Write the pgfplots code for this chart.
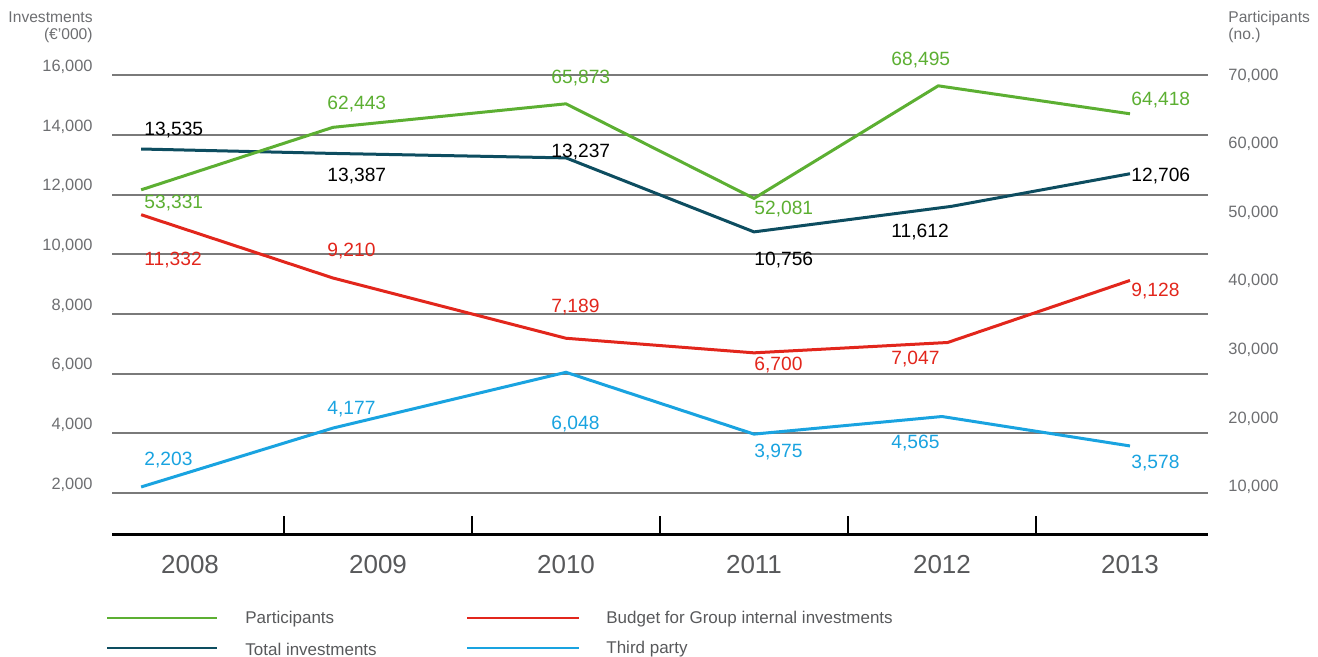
\documentclass[border=0pt]{standalone}
\usepackage{fontspec}
\setmainfont{Liberation Sans}
\usepackage{pgfplots}
\pgfplotsset{compat=1.18}
\definecolor{cGreen}{HTML}{5CAF32}
\definecolor{cTeal}{HTML}{0D4D60}
\definecolor{cRed}{HTML}{E2261C}
\definecolor{cCyan}{HTML}{19A3E0}
\definecolor{cGrid}{HTML}{7A7A7A}
\definecolor{cTick}{HTML}{6D6E71}
\definecolor{cYear}{HTML}{58595B}
\newcommand\fTick{\fontsize{8.2}{9}\selectfont}
\newcommand\fYear{\fontsize{13}{15}\selectfont}
\newcommand\fData{\fontsize{9.6}{11}\selectfont}
\newcommand\fLeg{\fontsize{8.5}{10}\selectfont}
\newcommand\fHead{\fontsize{7.8}{8.5}\selectfont}
\begin{document}
\begin{tikzpicture}[x=0.5pt,y=-0.5pt]
% left axis: investments (EUR '000)
\begin{axis}[
  at={(56pt,-267.5pt)}, anchor=south west,
  scale only axis, width=548pt, height=229.75pt,
  xmin=-0.415, xmax=5.415, ymin=592, ymax=16000,
  clip=false,
  axis x line*=bottom, x axis line style={-, black, line width=1.5pt},
  axis y line*=left, y axis line style={draw=none},
  xtick={0,1,2,3,4,5}, xticklabels={2008,2009,2010,2011,2012,2013},
  major x tick style={draw=none},
  minor xtick={0.5,1.5,2.5,3.5,4.5},
  minor x tick style={black, line width=1pt},
  minor tick length=9.5pt, tick align=inside,
  xticklabel style={font=\fYear, text=cYear, anchor=center, inner sep=0pt, yshift=-14.75pt},
  ytick={2000,4000,6000,8000,10000,12000,14000,16000},
  major y tick style={draw=none},
  scaled y ticks=false,
  /pgf/number format/1000 sep={,},
  /pgf/number format/assume math mode=true,
  yticklabel style={font=\fTick, text=cTick, anchor=base east, inner sep=0pt, xshift=-9.5pt, yshift=2pt},
  ymajorgrids, grid style={cGrid, line width=1pt},
]
% Total investments
\addplot[cTeal, line width=1.5pt] coordinates {(-0.26,13535) (0.76,13387) (2,13237) (3,10756) (4.05,11612) (5,12706)};
% Budget for Group internal investments
\addplot[cRed, line width=1.5pt] coordinates {(-0.26,11332) (0.76,9210) (2,7189) (3,6700) (4.03,7047) (5,9128)};
% Third party
\addplot[cCyan, line width=1.5pt] coordinates {(-0.26,2203) (0.76,4177) (2,6048) (3,3975) (4,4565) (5,3578)};
\end{axis}
% right axis: participants
\begin{axis}[
  at={(56pt,-267.5pt)}, anchor=south west,
  scale only axis, width=548pt, height=229.75pt,
  xmin=-0.415, xmax=5.415, ymin=3010, ymax=70000,
  clip=false,
  axis x line=none,
  axis y line*=right, y axis line style={draw=none},
  ytick={10000,20000,30000,40000,50000,60000,70000},
  major y tick style={draw=none},
  scaled y ticks=false,
  /pgf/number format/1000 sep={,},
  /pgf/number format/assume math mode=true,
  yticklabel style={font=\fTick, text=cTick, anchor=west, inner sep=0pt, xshift=10pt},
]
\addplot[cGreen, line width=1.5pt] coordinates {(-0.26,53331) (0.76,62443) (2,65873) (3,52081) (3.98,68495) (5,64418)};
\end{axis}
% axis headings
\node[font=\fHead, text=cTick, anchor=north east, align=right, inner sep=0pt] at (93,11) {Investments\\(€'000)};
\node[font=\fHead, text=cTick, anchor=north west, align=left, inner sep=0pt] at (1228,11) {Participants\\(no.)};
% value labels
\begin{scope}[every node/.style={font=\fData, anchor=west, inner sep=0pt}]
% participants
\node[text=cGreen] at (144,203) {53,331};
\node[text=cGreen] at (327,104) {62,443};
\node[text=cGreen] at (551,78) {65,873};
\node[text=cGreen] at (754,209) {52,081};
\node[text=cGreen] at (891,60) {68,495};
\node[text=cGreen] at (1131,100) {64,418};
% total
\node[text=black] at (144,130) {13,535};
\node[text=black] at (327,176) {13,387};
\node[text=black] at (551,152) {13,237};
\node[text=black] at (754,260) {10,756};
\node[text=black] at (891,232) {11,612};
\node[text=black] at (1131,176) {12,706};
% budget
\node[text=cRed] at (144,260) {11,332};
\node[text=cRed] at (327,251) {9,210};
\node[text=cRed] at (551,307) {7,189};
\node[text=cRed] at (754,365) {6,700};
\node[text=cRed] at (891,359) {7,047};
\node[text=cRed] at (1131,291) {9,128};
% third party
\node[text=cCyan] at (144,460) {2,203};
\node[text=cCyan] at (327,409) {4,177};
\node[text=cCyan] at (551,424) {6,048};
\node[text=cCyan] at (754,452) {3,975};
\node[text=cCyan] at (891,443) {4,565};
\node[text=cCyan] at (1131,463) {3,578};
\end{scope}
% legend
\begin{scope}[every node/.style={font=\fLeg, text=cYear, anchor=west, inner sep=0pt}]
\draw[cGreen, line width=1.4pt] (107,618) -- (217,618);
\node at (245,619.5) {Participants};
\draw[cTeal, line width=1.4pt] (107,648) -- (217,648);
\node at (245,649.5) {Total investments};
\draw[cRed, line width=1.4pt] (467,618) -- (579,618);
\node at (606,619.5) {Budget for Group internal investments};
\draw[cCyan, line width=1.4pt] (467,648) -- (579,648);
\node at (606,649.5) {Third party};
\end{scope}
\pgfresetboundingbox
\path (0,0) rectangle (1318,657);
\end{tikzpicture}
\end{document}
